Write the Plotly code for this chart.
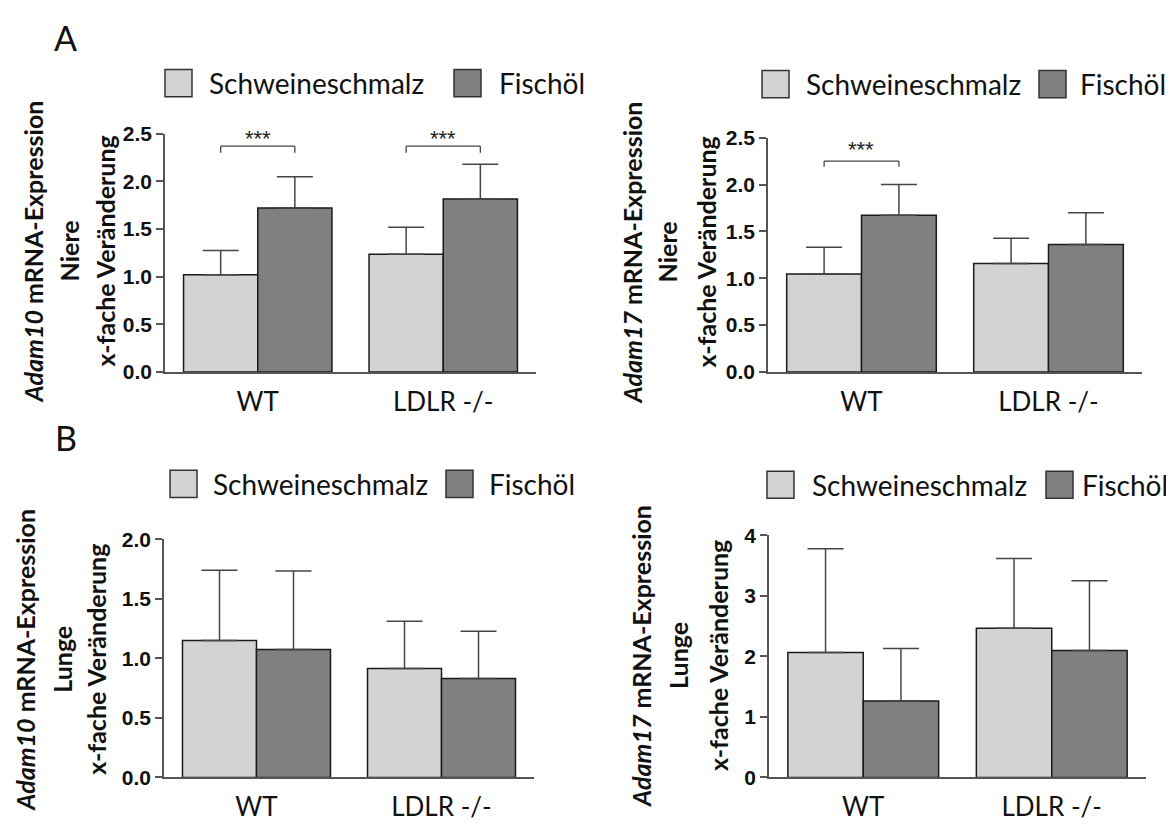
import plotly.graph_objects as go

W, H = 1174, 830
OFF = 8  # default page body margin

categories = ["WT", "LDLR -/-"]
series_names = ["Schweineschmalz", "Fischöl"]

# A: Niere
niere_adam10_schmalz = [1.02, 1.235]
niere_adam10_schmalz_err = [0.256, 0.285]
niere_adam10_fisch = [1.72, 1.816]
niere_adam10_fisch_err = [0.33, 0.364]

niere_adam17_schmalz = [1.046, 1.157]
niere_adam17_schmalz_err = [0.284, 0.27]
niere_adam17_fisch = [1.672, 1.361]
niere_adam17_fisch_err = [0.328, 0.339]

# B: Lunge
lunge_adam10_schmalz = [1.15, 0.915]
lunge_adam10_schmalz_err = [0.59, 0.397]
lunge_adam10_fisch = [1.074, 0.831]
lunge_adam10_fisch_err = [0.658, 0.397]

lunge_adam17_schmalz = [2.064, 2.465]
lunge_adam17_schmalz_err = [1.716, 1.15]
lunge_adam17_fisch = [1.262, 2.096]
lunge_adam17_fisch_err = [0.866, 1.154]

y_ticks_niere = [0.0, 0.5, 1.0, 1.5, 2.0, 2.5]
y_ticks_lunge10 = [0.0, 0.5, 1.0, 1.5, 2.0]
y_ticks_lunge17 = [0, 1, 2, 3, 4]

LIGHT = "#d3d3d3"
DARK = "#808080"
TXT = "Lato, 'Open Sans', sans-serif"
TICKF = "'Liberation Sans', Arial, sans-serif"


def fx(px):
    return (px - OFF) / W


def fy(py):
    return 1 - (py - OFF) / H


panels = [
    dict(gene="Adam10", organ="Niere",
         s=niere_adam10_schmalz, se=niere_adam10_schmalz_err,
         f=niere_adam10_fisch, fe=niere_adam10_fisch_err,
         ticks=y_ticks_niere, fmt=".1f",
         xd=(165, 536), yd=(125, 370),
         title_x=(33, 69, 105), title_y=246,
         leg=dict(y=73, b1=165, t1=207, b2=454, t2=497),
         sig=[(0, 2.37, 2.30, 2.45), (1, 2.37, 2.30, 2.45)]),
    dict(gene="Adam17", organ="Niere",
         s=niere_adam17_schmalz, se=niere_adam17_schmalz_err,
         f=niere_adam17_fisch, fe=niere_adam17_fisch_err,
         ticks=y_ticks_niere, fmt=".1f",
         xd=(768, 1142), yd=(129, 370),
         title_x=(632, 667, 706), title_y=247,
         leg=dict(y=74, b1=762, t1=804, b2=1039, t2=1078),
         sig=[(0, 2.25, 2.19, 2.37)]),
    dict(gene="Adam10", organ="Lunge",
         s=lunge_adam10_schmalz, se=lunge_adam10_schmalz_err,
         f=lunge_adam10_fisch, fe=lunge_adam10_fisch_err,
         ticks=y_ticks_lunge10, fmt=".1f",
         xd=(164, 534), yd=(542, 787),
         title_x=(25, 62, 96), title_y=666,
         leg=dict(y=485, b1=170, t1=211, b2=446, t2=487),
         sig=[]),
    dict(gene="Adam17", organ="Lunge",
         s=lunge_adam17_schmalz, se=lunge_adam17_schmalz_err,
         f=lunge_adam17_fisch, fe=lunge_adam17_fisch_err,
         ticks=y_ticks_lunge17, fmt="d",
         xd=(769, 1146), yd=(538, 787),
         title_x=(641, 678, 718), title_y=662,
         leg=dict(y=486, b1=767, t1=810, b2=1046, t2=1080),
         sig=[]),
]

fig = go.Figure()
shapes = []
annotations = []

for i, p in enumerate(panels, start=1):
    xa = "x" if i == 1 else f"x{i}"
    ya = "y" if i == 1 else f"y{i}"
    for name, vals, errs, col in [(series_names[0], p["s"], p["se"], LIGHT),
                                  (series_names[1], p["f"], p["fe"], DARK)]:
        fig.add_trace(go.Bar(
            x=categories, y=vals, name=name, showlegend=False,
            marker=dict(color=col, line=dict(color="#1a1a1a", width=1.5)),
            error_y=dict(type="data", symmetric=False, array=errs,
                         arrayminus=[0] * len(errs),
                         color="#454545", thickness=1.5, width=18),
            xaxis=xa, yaxis=ya))
    top = p["ticks"][-1]
    layout_x = dict(domain=[fx(p["xd"][0]), fx(p["xd"][1])],
                    anchor=ya, showline=True, linecolor="#555555",
                    linewidth=1.5, ticks="", showgrid=False, zeroline=False,
                    ticklabelstandoff=6,
                    tickfont=dict(family=TXT, size=26, color="#111111"),
                    range=[-0.5, 1.5])
    layout_y = dict(domain=[fy(p["yd"][1]), fy(p["yd"][0])],
                    anchor=xa, range=[0, top], showline=True,
                    linecolor="#555555", linewidth=1.5, ticks="outside",
                    ticklen=7, tickwidth=1.5, tickcolor="#555555",
                    tickvals=p["ticks"], tickformat=p["fmt"],
                    showgrid=False, zeroline=False,
                    tickfont=dict(family=TICKF, size=21, color="#111111",
                                  weight="bold"))
    fig.update_layout(**{("xaxis" if i == 1 else f"xaxis{i}"): layout_x,
                         ("yaxis" if i == 1 else f"yaxis{i}"): layout_y})

    # significance brackets
    for cat, yh, yl, ys in p["sig"]:
        x0, x1 = cat - 0.2, cat + 0.2
        for (a, b, c, d) in [(x0, yl, x0, yh), (x0, yh, x1, yh), (x1, yh, x1, yl)]:
            shapes.append(dict(type="line", xref=xa, yref=ya, x0=a, y0=b,
                               x1=c, y1=d, line=dict(color="#444444", width=1.3)))
        annotations.append(dict(xref=xa, yref=ya, x=cat, y=ys, text="***",
                                showarrow=False, font=dict(family=TICKF, size=22,
                                                           color="#222222")))

    # axis titles
    lines = [f"<b><i>{p['gene']}</i> mRNA-Expression</b>",
             f"<b>{p['organ']}</b>", "<b>x-fache Veränderung</b>"]
    for lx, txt in zip(p["title_x"], lines):
        annotations.append(dict(xref="paper", yref="paper", x=fx(lx),
                                y=fy(p["title_y"]), text=txt, textangle=-90,
                                showarrow=False, xanchor="center", yanchor="middle",
                                font=dict(family=TXT, size=25, color="#111111")))

    # legend
    lg = p["leg"]
    for bx, col in [(lg["b1"], LIGHT), (lg["b2"], DARK)]:
        shapes.append(dict(type="rect", xref="paper", yref="paper",
                           x0=fx(bx), x1=fx(bx + 27), y0=fy(lg["y"] + 14),
                           y1=fy(lg["y"] - 14), fillcolor=col,
                           line=dict(color="#333333", width=1.5)))
    for tx, txt in [(lg["t1"], series_names[0]), (lg["t2"], series_names[1])]:
        annotations.append(dict(xref="paper", yref="paper", x=fx(tx),
                                y=fy(lg["y"]), text=txt, showarrow=False,
                                xanchor="left", yanchor="middle",
                                font=dict(family=TXT, size=28, color="#111111")))

for letter, lx, ly in [("A", 66, 26), ("B", 66, 437)]:
    annotations.append(dict(xref="paper", yref="paper", x=fx(lx), y=fy(ly),
                            text=letter, showarrow=False, xanchor="center",
                            yanchor="middle",
                            font=dict(family=TXT, size=34, color="#111111")))

fig.update_layout(width=W, height=H, margin=dict(l=0, r=0, t=0, b=0),
                  paper_bgcolor="white", plot_bgcolor="white",
                  barmode="group", bargap=0.2, bargroupgap=0,
                  shapes=shapes, annotations=annotations, showlegend=False)

fig.write_html("out.html")
